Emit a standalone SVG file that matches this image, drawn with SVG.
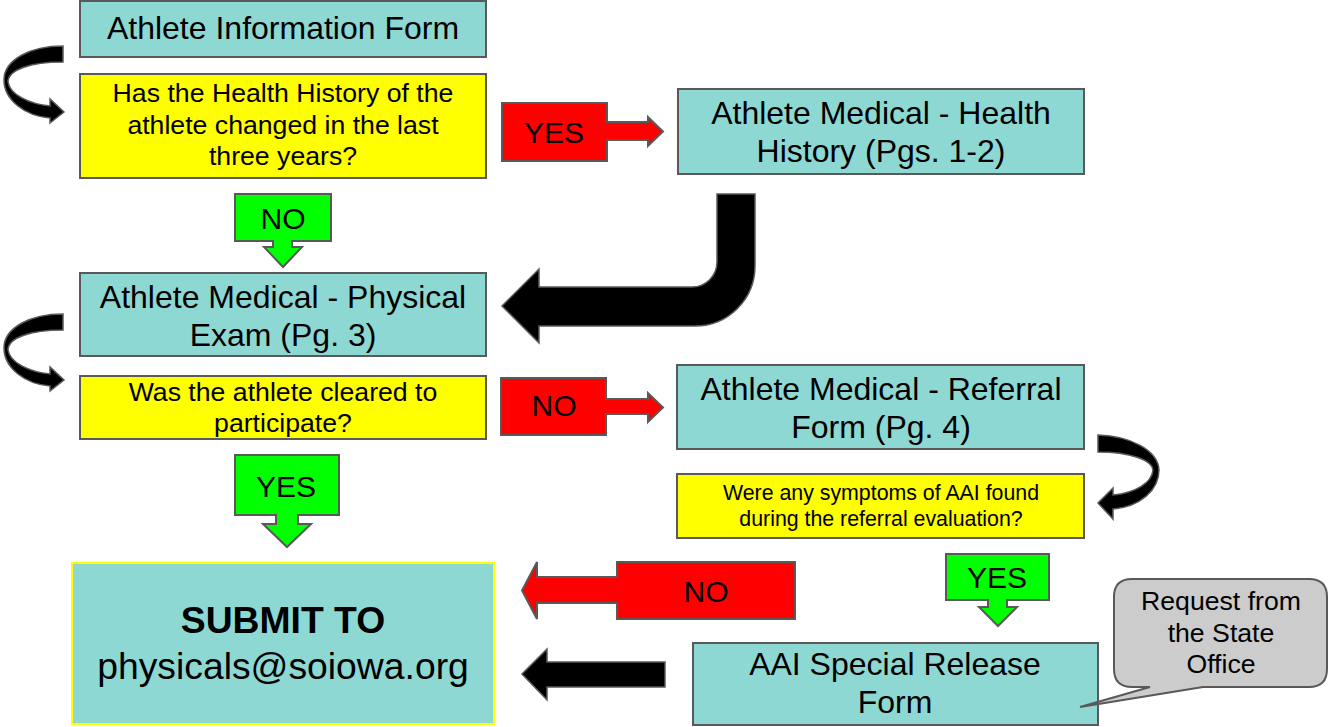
<svg xmlns="http://www.w3.org/2000/svg" width="1329" height="727" viewBox="0 0 1329 727">
<style>
text{font-family:"Liberation Sans",Arial,sans-serif;fill:#000;text-anchor:middle}
.box{fill:#8ed8d3;stroke:#595959;stroke-width:2}
.q{fill:#ffff00;stroke:#595959;stroke-width:2}
.red{fill:#ff0000;stroke:#595959;stroke-width:2;stroke-linejoin:miter}
.grn{fill:#00ff00;stroke:#595959;stroke-width:2}
.blk{fill:#000;stroke:#595959;stroke-width:1.5}
.t32{font-size:32px}
.t27{font-size:26.67px}
.t21{font-size:21.33px}
.lbl{font-size:30px}
</style>
<defs>
<path id="curveL" d="M63,46 C30,46 4,60 4,80 C4,100 25,116 50,118 L50,123 L64,112 L50,99 L50,106 C30,104 10,95 8,82 C8,70 30,62 63,62 Z"/>
</defs>

<g id="connectors">
<use href="#curveL" class="blk"/>
<use href="#curveL" class="blk" transform="translate(0,268)"/>
<path class="blk" d="M1098,435 C1130,436 1158,450 1159,470 C1159,490 1140,507 1113,509 L1113,519 L1098,503 L1113,488 L1113,495 C1135,493 1152,483 1153,470 C1152,460 1130,452 1098,452 Z"/>
<path class="blk" d="M717,194 L755,194 L755,266 A60,60 0 0 1 695,326 L539,326 L539,343 L502,306 L539,269 L539,287 L692,287 A25,25 0 0 0 717,262 Z"/>
<path class="blk" d="M665,662 L665,687 L547,687 L547,700 L522,674 L547,649 L547,662 Z"/>
<g id="yes1">
<path class="red" d="M502,103 L607,103 L607,122 L648,122 L648,117 L663,131.5 L648,146 L648,140 L607,140 L607,161 L502,161 Z"/>
<text class="lbl" x="554" y="143">YES</text>
</g>
<g id="no1">
<path class="grn" d="M235,194 L331,194 L331,241 L292,241 L292,247 L302,247 L283,267 L264,247 L273,247 L273,241 L235,241 Z"/>
<text class="lbl" x="283" y="229">NO</text>
</g>
<g id="no2">
<path class="red" d="M501,378 L606,378 L606,399 L648,399 L648,393 L663,407.5 L648,422 L648,414 L606,414 L606,435 L501,435 Z"/>
<text class="lbl" x="554" y="416">NO</text>
</g>
<g id="yes2">
<path class="grn" d="M235,455 L339,455 L339,515 L298,515 L298,524 L311,524 L287,547 L263,524 L276,524 L276,515 L235,515 Z"/>
<text class="lbl" x="286" y="497">YES</text>
</g>
<g id="yes3">
<path class="grn" d="M946,554 L1049,554 L1049,600 L1007,600 L1007,607 L1017,607 L998,626 L979,607 L988,607 L988,600 L946,600 Z"/>
<text class="lbl" x="997" y="588">YES</text>
</g>
<g id="no3">
<path class="red" d="M795,562 L795,619 L617,619 L617,603 L537,603 L537,619 L522,590.5 L537,562 L537,577 L617,577 L617,562 Z"/>
<text class="lbl" x="706" y="602">NO</text>
</g>
</g>

<g id="n-info">
<rect class="box" x="80" y="1" width="406" height="56"/>
<text class="t32" x="283" y="39">Athlete Information Form</text>
</g>
<g id="n-q1">
<rect class="q" x="80" y="74" width="406" height="104"/>
<text class="t27" x="283" y="102">Has the Health History of the</text>
<text class="t27" x="283" y="134">athlete changed in the last</text>
<text class="t27" x="283" y="165">three years?</text>
</g>
<g id="n-history">
<rect class="box" x="678" y="89" width="406" height="85"/>
<text class="t32" x="881" y="124">Athlete Medical - Health</text>
<text class="t32" x="881" y="162">History (Pgs. 1-2)</text>
</g>
<g id="n-physical">
<rect class="box" x="80" y="273" width="406" height="83"/>
<text class="t32" x="283" y="308">Athlete Medical - Physical</text>
<text class="t32" x="283" y="346">Exam (Pg. 3)</text>
</g>
<g id="n-q2">
<rect class="q" x="80" y="376" width="406" height="63"/>
<text class="t27" x="283" y="401">Was the athlete cleared to</text>
<text class="t27" x="283" y="432">participate?</text>
</g>
<g id="n-referral">
<rect class="box" x="677" y="365" width="407" height="84"/>
<text class="t32" x="881" y="400">Athlete Medical - Referral</text>
<text class="t32" x="881" y="438">Form (Pg. 4)</text>
</g>
<g id="n-q3">
<rect class="q" x="677" y="474" width="407" height="64"/>
<text class="t21" x="881" y="500">Were any symptoms of AAI found</text>
<text class="t21" x="881" y="526">during the referral evaluation?</text>
</g>
<g id="n-submit">
<rect x="72" y="563" width="422" height="161" fill="#8ed8d3" stroke="#ffff00" stroke-width="2"/>
<text x="283" y="633" font-size="37.3" font-weight="bold">SUBMIT TO</text>
<text x="283" y="679" font-size="37.3">physicals@soiowa.org</text>
</g>
<g id="n-aai">
<rect class="box" x="693" y="643" width="405" height="82"/>
<text class="t32" x="895" y="675">AAI Special Release</text>
<text class="t32" x="895" y="713">Form</text>
</g>
<g id="n-callout">
<path d="M1132,579 L1309,579 Q1327,579 1327,597 L1327,669 Q1327,687 1309,687 L1203,687 L1080,707 L1150,687 L1132,687 Q1114,687 1114,669 L1114,597 Q1114,579 1132,579 Z" fill="#cccccc" stroke="#595959" stroke-width="2"/>
<text class="t27" x="1221" y="610">Request from</text>
<text class="t27" x="1221" y="642">the State</text>
<text class="t27" x="1221" y="673">Office</text>
</g>
</svg>
